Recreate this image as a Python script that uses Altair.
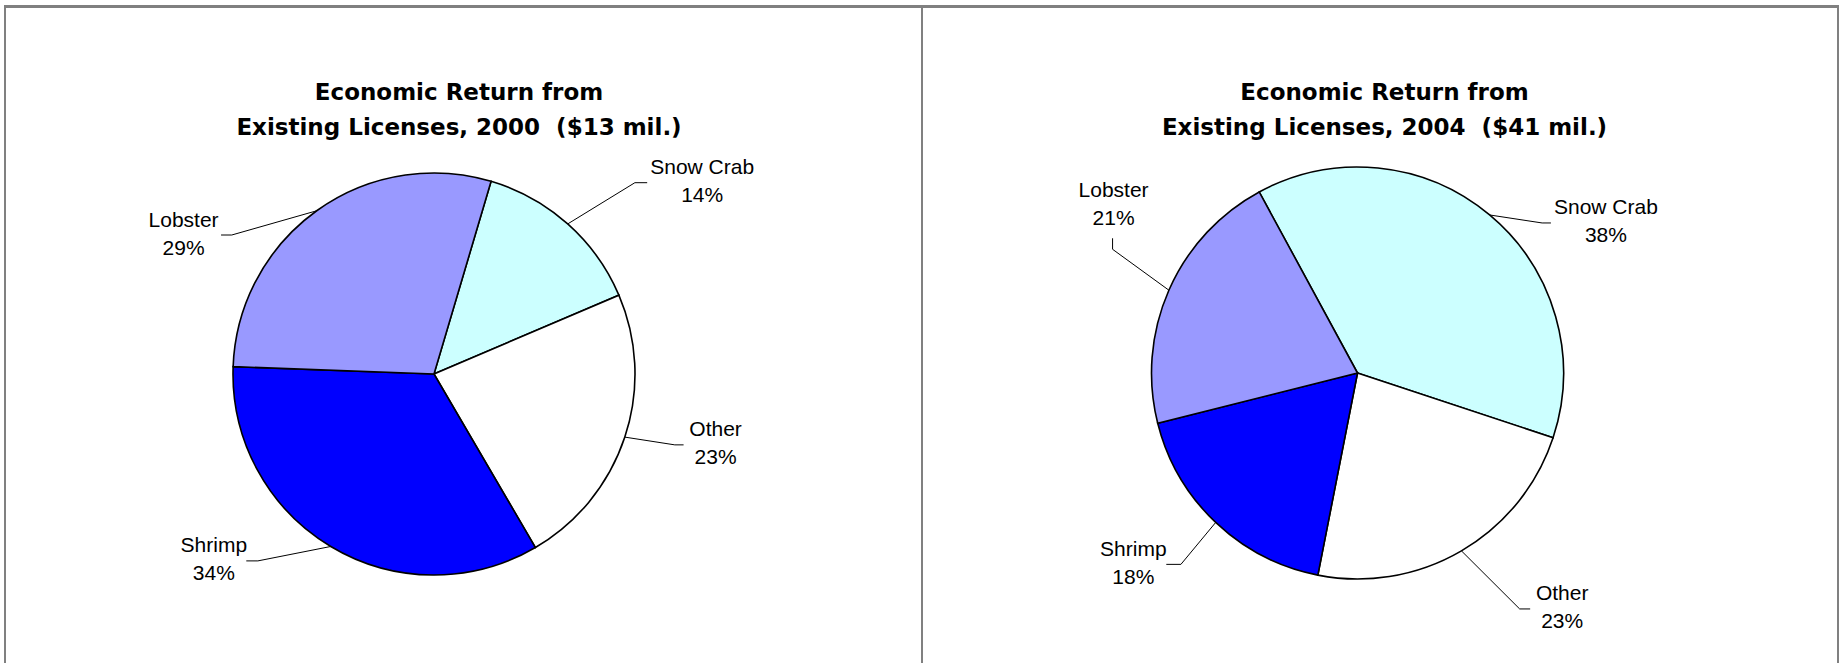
import math

import altair as alt
import pandas as pd

# ---- data -------------------------------------------------------------
species = ["Snow Crab", "Other", "Shrimp", "Lobster"]
share_2000 = [14, 23, 34, 29]
share_2004 = [38, 23, 18, 21]
years = ["2000", "2004"]
title_top = ["Economic Return from", "Economic Return from"]
# a no-break space keeps the double gap before the dollar amount
title_bottom = ["Existing Licenses, 2000\u00a0 ($13 mil.)",
                "Existing Licenses, 2004\u00a0 ($41 mil.)"]
fill_colors = ["#CCFFFF", "#FFFFFF", "#0000FF", "#9999FF"]

# ---- layout -----------------------------------------------------------
W, H = 1839, 663
BORDER = "#808080"
LABEL_FONT = "Liberation Sans"
TITLE_FONT = "DejaVu Sans"

# pie centre, radius, first-slice angle (deg clockwise from 12 o'clock), title centre
PIES = {
    "2000": dict(cx=434, cy=374, r=201, start=16.5, title_x=459),
    "2004": dict(cx=1357.5, cy=373, r=206, start=-28.5, title_x=1384.5),
}
# leader placement per slice: elbow angle offset from slice mid-angle (deg),
# elbow radius, tail (dx, dy), label offset from tail end (dx, dy of first line)
LABEL_LAYOUT = {
    "2000": {
        "Snow Crab": (4.7, 277.4, 12.3, 0, 55, -9),
        "Other": (-1.9, 251.0, 8.8, 0, 32, -8.5),
        "Shrimp": (12.4, 256.8, -11.6, 0, -32.4, -8.5),
        "Lobster": (-19.8, 245.4, -10.7, 0, -37.5, -8.5),
    },
    "2004": {
        "Snow Crab": (11.0, 237.9, 8.8, 0, 55, -8.5),
        "Other": (-4.2, 286.3, 10.5, 0, 32, -8.5),
        "Shrimp": (-0.8, 260.4, -14.6, 0, -33, -8.5),
        "Lobster": (3.1, 274.4, 0, -11, 1, -41.5),
    },
}
LINE_GAP = 28

# ---- tables -----------------------------------------------------------
shares = {"2000": share_2000, "2004": share_2004}
slice_rows, leader_rows, label_rows = [], [], []
for year in years:
    geo = PIES[year]
    total = sum(shares[year])
    cum = 0.0
    for i, (name, val) in enumerate(zip(species, shares[year])):
        slice_rows.append(dict(year=year, species=name, share=val, idx=i))
        mid = geo["start"] + 360.0 * (cum + val / 2.0) / total
        cum += val
        off, er, tdx, tdy, ldx, ldy = LABEL_LAYOUT[year][name]
        a0 = math.radians(mid)
        a1 = math.radians(mid + off)
        px, py = geo["cx"] + geo["r"] * math.sin(a0), geo["cy"] - geo["r"] * math.cos(a0)
        ex, ey = geo["cx"] + er * math.sin(a1), geo["cy"] - er * math.cos(a1)
        ax, ay = ex + tdx, ey + tdy
        key = f"{year}-{name}"
        for k, (x, y) in enumerate([(px, py), (ex, ey), (ax, ay)]):
            leader_rows.append(dict(key=key, k=k, x=x, y=y))
        label_rows.append(dict(text=name, x=ax + ldx, y=ay + ldy))
        label_rows.append(dict(text=f"{val}%", x=ax + ldx, y=ay + ldy + LINE_GAP))

slices = pd.DataFrame(slice_rows)
leaders = pd.DataFrame(leader_rows)
labels = pd.DataFrame(label_rows)

title_rows = []
for i, year in enumerate(years):
    title_rows.append(dict(text=title_top[i], x=PIES[year]["title_x"], y=99.5))
    title_rows.append(dict(text=title_bottom[i], x=PIES[year]["title_x"], y=134.5))
titles = pd.DataFrame(title_rows)

# ---- marks ------------------------------------------------------------
frame_layers = [
    alt.Chart(slices).mark_rule(color=BORDER, strokeWidth=2).encode(
        x=alt.value(4), x2=alt.value(W), y=alt.value(6.5)),
    alt.Chart(slices).mark_rule(color=BORDER, strokeWidth=2).encode(
        x=alt.value(5), y=alt.value(5.5), y2=alt.value(H + 10)),
    alt.Chart(slices).mark_rule(color=BORDER, strokeWidth=2).encode(
        x=alt.value(922), y=alt.value(5.5), y2=alt.value(H + 10)),
    alt.Chart(slices).mark_rule(color=BORDER, strokeWidth=2).encode(
        x=alt.value(1838.5), y=alt.value(5.5), y2=alt.value(H + 10)),
]

pie_layers = []
for year in years:
    geo = PIES[year]
    start = math.radians(geo["start"])
    pie_layers.append(
        alt.Chart(slices)
        .transform_filter(alt.datum.year == year)
        .mark_arc(outerRadius=geo["r"], stroke="black", strokeWidth=1.6)
        .encode(
            theta=alt.Theta("share:Q", stack=True,
                            scale=alt.Scale(range=[start, start + 2 * math.pi])),
            color=alt.Color("species:N",
                            scale=alt.Scale(domain=species, range=fill_colors),
                            legend=None),
            order=alt.Order("idx:Q"),
            x=alt.value(geo["cx"]),
            y=alt.value(geo["cy"]),
        )
    )

leader_layer = alt.Chart(leaders).mark_line(color="black", strokeWidth=1).encode(
    x=alt.X("x:Q", scale=None),
    y=alt.Y("y:Q", scale=None),
    detail="key:N",
    order="k:Q",
)

label_layer = alt.Chart(labels).mark_text(
    font=LABEL_FONT, fontSize=21, color="black", align="center", baseline="alphabetic"
).encode(
    x=alt.X("x:Q", scale=None),
    y=alt.Y("y:Q", scale=None),
    text="text:N",
)

title_layer = alt.Chart(titles).mark_text(
    font=TITLE_FONT, fontSize=23, fontWeight="bold", color="black",
    align="center", baseline="alphabetic"
).encode(
    x=alt.X("x:Q", scale=None),
    y=alt.Y("y:Q", scale=None),
    text="text:N",
)

chart = (
    alt.layer(*frame_layers, *pie_layers, leader_layer, label_layer, title_layer)
    .resolve_scale(theta="independent")
    .properties(width=W, height=H, padding=0, autosize=alt.AutoSizeParams(type="none"),
                background="white")
    .configure_view(stroke=None)
)

chart.save("out.html", embed_options={"renderer": "svg", "actions": False})
